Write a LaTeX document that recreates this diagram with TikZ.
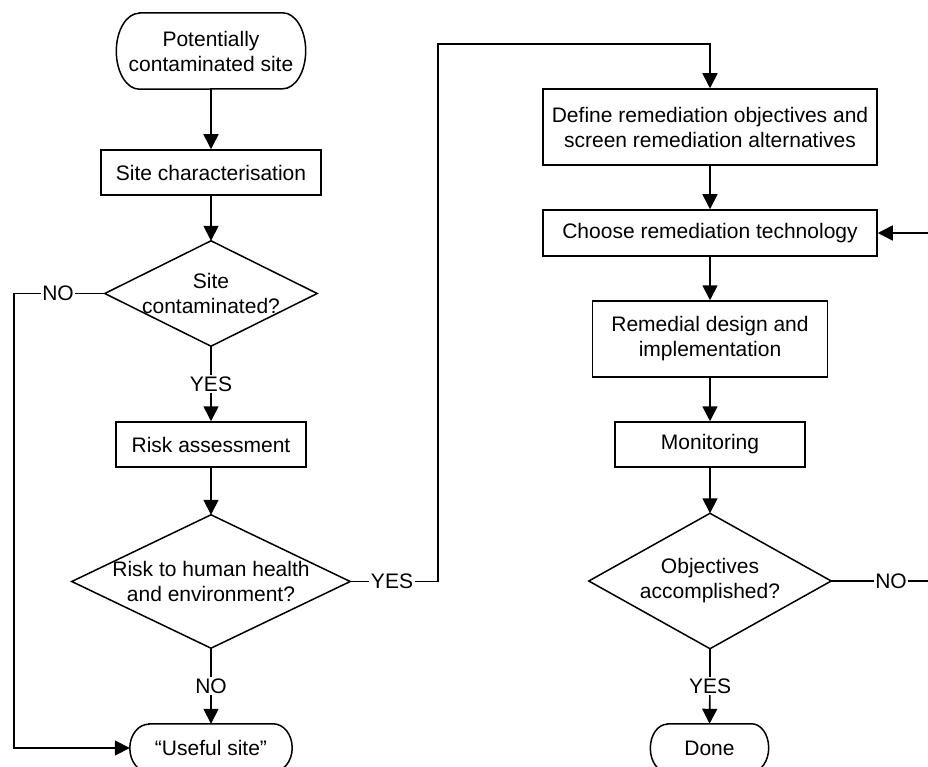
\documentclass[tikz,border=0pt]{standalone}
\usepackage{fontspec}
\setmainfont{Liberation Sans}
\usetikzlibrary{arrows.meta}
\tikzset{
  base/.style={font=\fontsize{21}{25}\selectfont, align=center, inner sep=0pt},
  boxnode/.style={base, draw, line width=1.5pt, rectangle},
  dia/.style={base, rectangle},
  term/.style={base, rectangle},
  lbl/.style={base, inner sep=1.5pt},
  conn/.style={line width=1.6pt},
  arr/.style={conn, -{Triangle[length=15pt,width=15pt]}},
  shapeline/.style={line width=1.5pt},
}
\begin{document}
\begin{tikzpicture}[x=1pt,y=-1pt]
\useasboundingbox (0,0) rectangle (928,767);
\clip (0,0) rectangle (928,767);
\fill[white] (0,0) rectangle (928,767);

% left column
\node[term, minimum width=189, minimum height=76] (start) at (211,51) {Potentially\\contaminated site};
\node[boxnode, minimum width=220, minimum height=45] (charac) at (211,172.5) {Site characterisation};
\node[dia, minimum width=212, minimum height=105] (d1) at (211,293.5) {Site\\contaminated?};
\node[boxnode, minimum width=190, minimum height=45] (risk) at (211,444.5) {Risk assessment};
\node[dia, minimum width=278, minimum height=133] (d2) at (211,581.5) {Risk to human health\\and environment?};
\node[term, minimum width=162, minimum height=48] (useful) at (211,748) {``Useful site''};

% right column
\node[boxnode, minimum width=334, minimum height=76] (def) at (710,127) {Define remediation objectives and\\screen remediation alternatives};
\node[boxnode, minimum width=334, minimum height=46] (choose) at (710,233) {Choose remediation technology};
\node[boxnode, minimum width=235, minimum height=76] (remed) at (710,339) {Remedial design and\\implementation};
\node[boxnode, minimum width=190, minimum height=45] (monit) at (710,444.5) {Monitoring};
\node[dia, minimum width=242, minimum height=135] (d3) at (710,581) {Objectives\\accomplished?};
\node[term, minimum width=118, minimum height=48] (done) at (709.5,748) {Done};

% diamonds
\draw[shapeline] (d1.north) -- (d1.east) -- (d1.south) -- (d1.west) -- cycle;
\draw[shapeline] (d2.north) -- (d2.east) -- (d2.south) -- (d2.west) -- cycle;
\draw[shapeline] (d3.north) -- (d3.east) -- (d3.south) -- (d3.west) -- cycle;

% terminals with elliptical ends (y axis points down)
\draw[shapeline] ([xshift=23pt]start.north west) -- ([xshift=-23pt]start.north east)
  arc[start angle=-90, end angle=90, x radius=23, y radius=38]
  -- ([xshift=23pt]start.south west)
  arc[start angle=90, end angle=270, x radius=23, y radius=38] -- cycle;
\draw[shapeline] ([xshift=19pt]useful.north west) -- ([xshift=-19pt]useful.north east)
  arc[start angle=-90, end angle=90, x radius=19, y radius=24]
  -- ([xshift=19pt]useful.south west)
  arc[start angle=90, end angle=270, x radius=19, y radius=24] -- cycle;
\draw[shapeline] ([xshift=17pt]done.north west) -- ([xshift=-17pt]done.north east)
  arc[start angle=-90, end angle=90, x radius=17, y radius=24]
  -- ([xshift=17pt]done.south west)
  arc[start angle=90, end angle=270, x radius=17, y radius=24] -- cycle;

% labels
\node[lbl] (no1) at (58,293.5) {NO};
\node[lbl] (yes1) at (211,384) {YES};
\node[lbl] (yes2) at (392,581.5) {YES};
\node[lbl] (no2) at (211,686) {NO};
\node[lbl] (no3) at (891,581) {NO};
\node[lbl] (yes3) at (710,686) {YES};

\coordinate (c1) at (14,293.5);
\coordinate (c2) at (14,748);
\coordinate (c3) at (438,581.5);
\coordinate (c4) at (438,44);
\coordinate (c5) at (710,44);
\coordinate (c6) at (931,581);
\coordinate (c7) at (931,233);

% connectors left
\draw[arr] (start) -- (charac);
\draw[arr] (charac) -- (d1.north);
\draw[conn] (d1.south) -- (yes1);
\draw[arr] (yes1) -- (risk);
\draw[arr] (risk) -- (d2.north);
\draw[conn] (d2.south) -- (no2);
\draw[arr] (no2) -- (useful.north);
\draw[conn] (d1.west) -- (no1);
\draw[arr] (no1.west) -- (c1) -- (c2) -- (useful.west);
\draw[conn] (d2.east) -- (yes2);
\draw[arr] (yes2.east) -- (c3) -- (c4) -- (c5) -- (def.north);

% connectors right
\draw[arr] (def) -- (choose);
\draw[arr] (choose) -- (remed);
\draw[arr] (remed) -- (monit);
\draw[arr] (monit) -- (d3.north);
\draw[conn] (d3.south) -- (yes3);
\draw[arr] (yes3) -- (done.north);
\draw[conn] (d3.east) -- (no3);
\draw[arr] (no3.east) -- (c6) -- (c7) -- (choose.east);
\end{tikzpicture}
\end{document}
